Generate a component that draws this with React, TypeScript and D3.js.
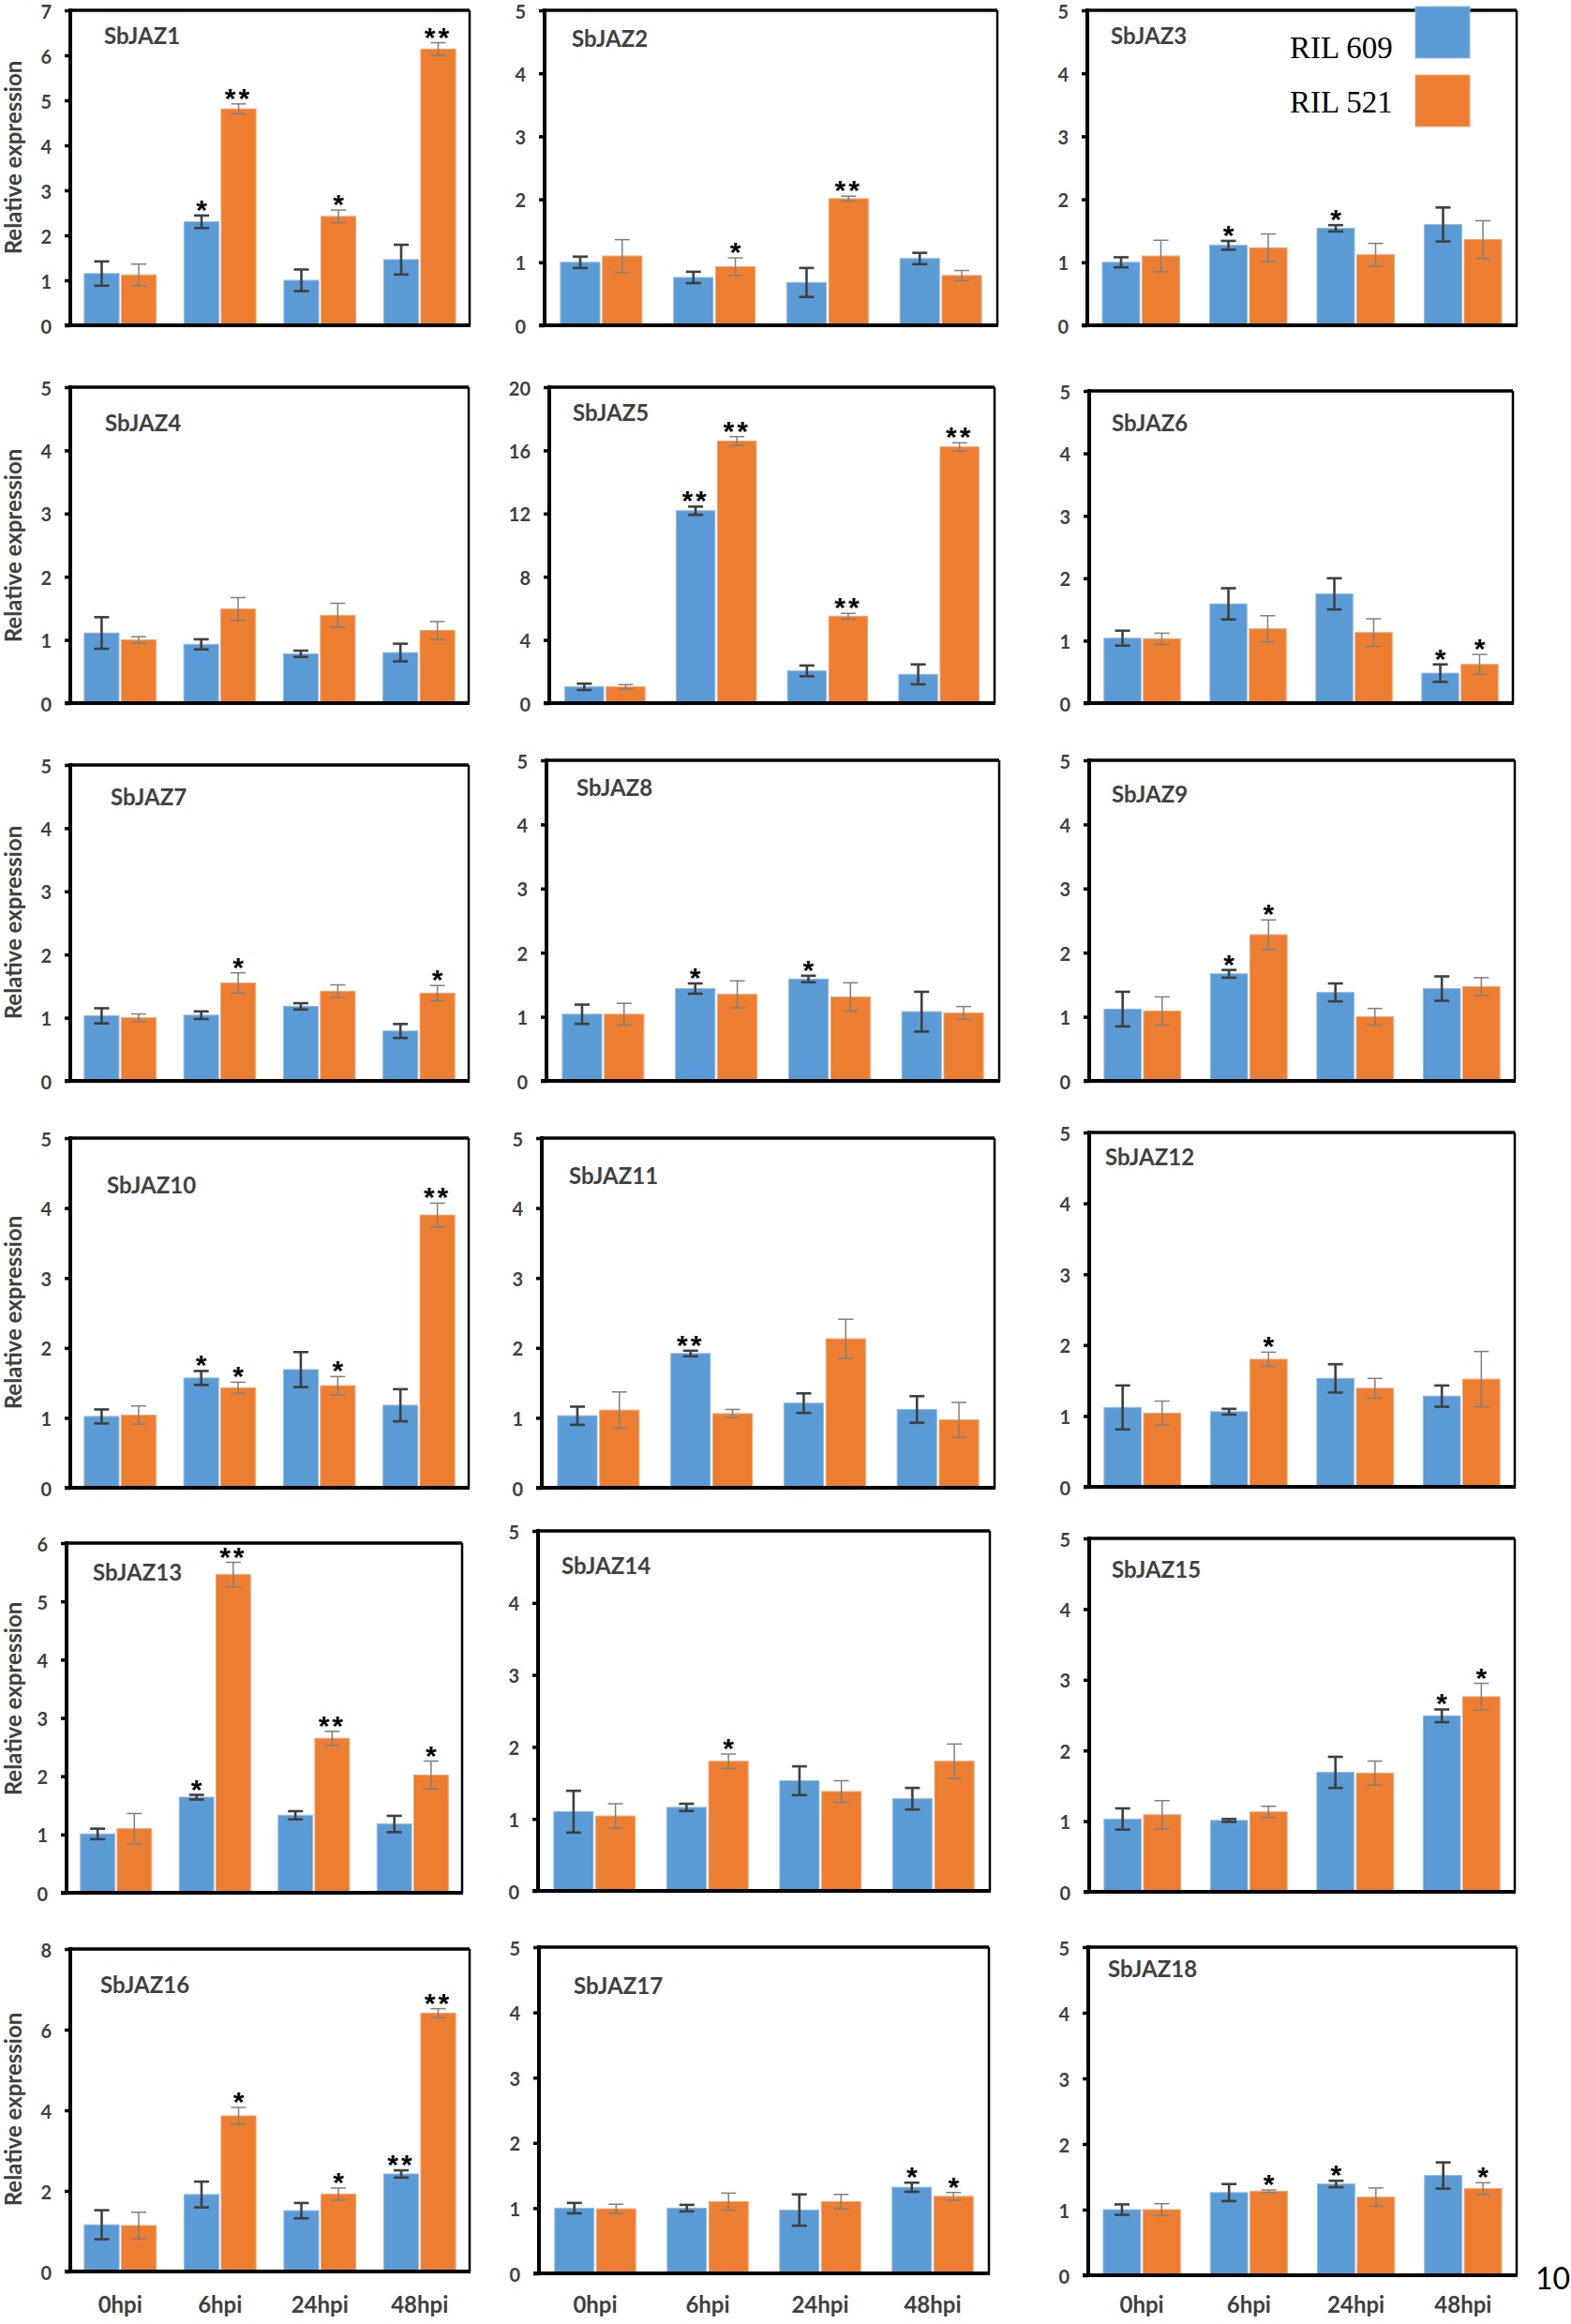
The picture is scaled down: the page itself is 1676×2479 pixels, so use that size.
import React, { useEffect, useRef } from "react";
import * as d3 from "d3";

const W = 1676;
const H = 2479;

const timepoints = ["0hpi", "6hpi", "24hpi", "48hpi"];
const genes = [
  "SbJAZ1", "SbJAZ2", "SbJAZ3", "SbJAZ4", "SbJAZ5", "SbJAZ6",
  "SbJAZ7", "SbJAZ8", "SbJAZ9", "SbJAZ10", "SbJAZ11", "SbJAZ12",
  "SbJAZ13", "SbJAZ14", "SbJAZ15", "SbJAZ16", "SbJAZ17", "SbJAZ18",
];
const yMax = [7, 5, 5, 5, 20, 5, 5, 5, 5, 5, 5, 5, 6, 5, 5, 8, 5, 5];
const yStep = [1, 1, 1, 1, 4, 1, 1, 1, 1, 1, 1, 1, 1, 1, 1, 2, 1, 1];

// RIL 609 (blue)
const ril609 = [
  [1.15, 2.3, 1.0, 1.46], [1.0, 0.76, 0.68, 1.06], [1.0, 1.27, 1.54, 1.6],
  [1.11, 0.93, 0.78, 0.8], [1.03, 12.18, 2.04, 1.82], [1.04, 1.59, 1.75, 0.48],
  [1.03, 1.04, 1.18, 0.79], [1.04, 1.44, 1.59, 1.08], [1.12, 1.67, 1.38, 1.44],
  [1.02, 1.57, 1.69, 1.18], [1.03, 1.92, 1.21, 1.12], [1.12, 1.06, 1.53, 1.28],
  [1.01, 1.64, 1.33, 1.18], [1.1, 1.16, 1.53, 1.28], [1.03, 1.01, 1.69, 2.49],
  [1.16, 1.91, 1.51, 2.42], [1.0, 1.0, 0.97, 1.32], [1.0, 1.26, 1.39, 1.52],
];
const ril609Err = [
  [0.27, 0.14, 0.24, 0.33], [0.09, 0.09, 0.23, 0.09], [0.08, 0.07, 0.05, 0.27],
  [0.25, 0.08, 0.05, 0.14], [0.2, 0.26, 0.34, 0.63], [0.12, 0.25, 0.25, 0.14],
  [0.12, 0.06, 0.05, 0.11], [0.15, 0.08, 0.05, 0.31], [0.27, 0.06, 0.14, 0.19],
  [0.1, 0.1, 0.25, 0.23], [0.13, 0.04, 0.14, 0.19], [0.31, 0.04, 0.2, 0.15],
  [0.09, 0.04, 0.07, 0.14], [0.29, 0.05, 0.2, 0.15], [0.15, 0.02, 0.22, 0.09],
  [0.36, 0.32, 0.19, 0.09], [0.08, 0.05, 0.24, 0.07], [0.08, 0.13, 0.05, 0.2],
];
// RIL 521 (orange)
const ril521 = [
  [1.12, 4.81, 2.42, 6.14], [1.1, 0.93, 2.01, 0.79], [1.1, 1.23, 1.12, 1.36],
  [1.0, 1.49, 1.39, 1.15], [1.03, 16.59, 5.5, 16.22], [1.03, 1.19, 1.13, 0.62],
  [1.0, 1.55, 1.42, 1.39], [1.04, 1.35, 1.31, 1.06], [1.09, 2.28, 1.0, 1.47],
  [1.04, 1.43, 1.46, 3.9], [1.11, 1.06, 2.13, 0.97], [1.04, 1.8, 1.39, 1.52],
  [1.1, 5.46, 2.65, 2.02], [1.04, 1.8, 1.38, 1.8], [1.09, 1.13, 1.68, 2.76],
  [1.14, 3.86, 1.92, 6.41], [0.99, 1.1, 1.1, 1.18], [1.0, 1.28, 1.19, 1.32],
];
const ril521Err = [
  [0.24, 0.11, 0.14, 0.14], [0.26, 0.14, 0.04, 0.08], [0.25, 0.22, 0.18, 0.3],
  [0.05, 0.18, 0.19, 0.14], [0.14, 0.28, 0.18, 0.26], [0.09, 0.21, 0.22, 0.16],
  [0.06, 0.16, 0.1, 0.12], [0.17, 0.21, 0.22, 0.1], [0.22, 0.23, 0.13, 0.14],
  [0.13, 0.08, 0.13, 0.17], [0.26, 0.06, 0.28, 0.25], [0.17, 0.1, 0.14, 0.39],
  [0.26, 0.21, 0.12, 0.24], [0.17, 0.1, 0.15, 0.24], [0.2, 0.08, 0.17, 0.19],
  [0.33, 0.21, 0.15, 0.11], [0.07, 0.13, 0.11, 0.06], [0.09, 0.02, 0.14, 0.09],
];
const sig609 = [
  ["", "*", "", ""], ["", "", "", ""], ["", "*", "*", ""],
  ["", "", "", ""], ["", "**", "", ""], ["", "", "", "*"],
  ["", "", "", ""], ["", "*", "*", ""], ["", "*", "", ""],
  ["", "*", "", ""], ["", "**", "", ""], ["", "", "", ""],
  ["", "*", "", ""], ["", "", "", ""], ["", "", "", "*"],
  ["", "", "", "**"], ["", "", "", "*"], ["", "", "*", ""],
];
const sig521 = [
  ["", "**", "*", "**"], ["", "*", "**", ""], ["", "", "", ""],
  ["", "", "", ""], ["", "**", "**", "**"], ["", "", "", "*"],
  ["", "*", "", "*"], ["", "", "", ""], ["", "*", "", ""],
  ["", "*", "*", "**"], ["", "", "", ""], ["", "*", "", ""],
  ["", "**", "**", "*"], ["", "*", "", ""], ["", "", "", "*"],
  ["", "*", "*", "**"], ["", "", "", "*"], ["", "*", "", "*"],
];
const legendLabels = ["RIL 609", "RIL 521"];

// panel frames: left, right, top, bottom, title dx, title dy
const frames = [
  [75, 501, 11, 347, 36, 36], [581, 1064, 11, 347, 29, 39], [1160, 1618, 11, 347, 25, 36],
  [75, 500, 413, 750, 37, 47], [586, 1061, 413, 750, 25, 36], [1162, 1614, 417, 750, 24, 43],
  [75, 500, 816, 1153, 43, 43], [583, 1066, 811, 1153, 32, 38], [1162, 1616, 811, 1153, 24, 45],
  [75, 500, 1214, 1587, 39, 59], [578, 1061, 1214, 1587, 29, 49], [1162, 1616, 1208, 1586, 17, 35],
  [71, 493, 1646, 2019, 28, 40], [574, 1056, 1633, 2017, 25, 46], [1162, 1616, 1641, 2018, 24, 42],
  [75, 501, 2079, 2423, 32, 47], [575, 1055, 2077, 2425, 37, 50], [1161, 1618, 2077, 2427, 21, 32],
];
const yTitleCenter = [168, 582, 984, 1400, 1812, 2250];

const BLUE = "#5B9BD5";
const ORANGE = "#ED7D31";
const GREY = "#404040";
const FONT = "Lato, 'Noto Sans', sans-serif";

export default function App() {
  const svgRef = useRef<SVGSVGElement>(null);

  useEffect(() => {
    document.body.style.margin = "0";
    const svg = d3.select(svgRef.current);
    svg.selectAll("*").remove();

    genes.forEach((gene, i) => {
      const [x0, x1, y0, y1, tdx, tdy] = frames[i];
      const g = svg.append("g");

      const x = d3.scaleBand().domain(timepoints).range([x0, x1])
        .paddingInner(0.28).paddingOuter(0.14);
      const sub = d3.scaleBand().domain(["609", "521"]).range([0, x.bandwidth()]).paddingInner(0.06);
      const y = d3.scaleLinear().domain([0, yMax[i]]).range([y1, y0]);

      const series = [
        { key: "609", vals: ril609[i], errs: ril609Err[i], sig: sig609[i], fill: BLUE, edge: "#8FBBE6", bar: GREY, bw: 2.6 },
        { key: "521", vals: ril521[i], errs: ril521Err[i], sig: sig521[i], fill: ORANGE, edge: "#F3A672", bar: "#7F7F7F", bw: 1.5 },
      ];

      series.forEach((s) => {
        const bx = (t: string) => (x(t) || 0) + (sub(s.key) || 0);
        const cx = (t: string) => bx(t) + sub.bandwidth() / 2;
        const rows = timepoints.map((t, k) => ({ t, v: s.vals[k], e: s.errs[k], sig: s.sig[k] }));

        g.append("g").selectAll("rect").data(rows).join("rect")
          .attr("x", (d) => bx(d.t))
          .attr("y", (d) => y(d.v))
          .attr("width", sub.bandwidth())
          .attr("height", (d) => y(0) - y(d.v))
          .attr("fill", s.fill)
          .attr("stroke", s.edge)
          .attr("stroke-width", 1);

        const eb = g.append("g").attr("stroke", s.bar).attr("stroke-width", s.bw).attr("fill", "none");
        eb.selectAll("line.v").data(rows).join("line").attr("class", "v")
          .attr("x1", (d) => cx(d.t)).attr("x2", (d) => cx(d.t))
          .attr("y1", (d) => y(d.v - d.e)).attr("y2", (d) => y(d.v + d.e));
        eb.selectAll("line.top").data(rows).join("line").attr("class", "top")
          .attr("x1", (d) => cx(d.t) - 8).attr("x2", (d) => cx(d.t) + 8)
          .attr("y1", (d) => y(d.v + d.e)).attr("y2", (d) => y(d.v + d.e));
        eb.selectAll("line.bot").data(rows).join("line").attr("class", "bot")
          .attr("x1", (d) => cx(d.t) - 8).attr("x2", (d) => cx(d.t) + 8)
          .attr("y1", (d) => y(d.v - d.e)).attr("y2", (d) => y(d.v - d.e));

        g.append("g").selectAll("text").data(rows.filter((d) => d.sig)).join("text")
          .attr("x", (d) => cx(d.t))
          .attr("y", (d) => y(d.v + d.e) + 4)
          .attr("text-anchor", "middle")
          .attr("font-family", "'Liberation Sans', Arial, sans-serif")
          .attr("font-weight", 700)
          .attr("font-size", 30)
          .attr("letter-spacing", (d) => (d.sig.length > 1 ? 3 : 0))
          .attr("fill", "#000")
          .text((d) => d.sig);
      });

      // y axis ticks
      const ticks = d3.range(0, yMax[i] + yStep[i] / 2, yStep[i]);
      const ax = g.append("g").attr("transform", `translate(${x0},0)`)
        .call(d3.axisLeft(y).tickValues(ticks).tickSize(6).tickPadding(14).tickFormat(d3.format("d")));
      ax.select(".domain").remove();
      ax.selectAll(".tick line").attr("stroke", "#000").attr("stroke-width", 3.5);
      ax.selectAll(".tick text")
        .attr("dy", "0.4em")
        .attr("font-family", FONT).attr("font-weight", 700).attr("font-size", 20).attr("fill", GREY);

      // frame
      g.append("line").attr("x1", x1).attr("x2", x1).attr("y1", y0).attr("y2", y1)
        .attr("stroke", "#000").attr("stroke-width", 2.5);
      g.append("line").attr("x1", x0).attr("x2", x1).attr("y1", y0).attr("y2", y0)
        .attr("stroke", "#000").attr("stroke-width", 3.5);
      g.append("line").attr("x1", x0).attr("x2", x0).attr("y1", y0 - 2).attr("y2", y1 + 2)
        .attr("stroke", "#000").attr("stroke-width", 4);
      g.append("line").attr("x1", x0 - 6).attr("x2", x1 + 1).attr("y1", y1).attr("y2", y1)
        .attr("stroke", "#000").attr("stroke-width", 4);

      // gene name
      g.append("text").attr("x", x0 + tdx).attr("y", y0 + tdy)
        .attr("font-family", FONT).attr("font-weight", 700).attr("font-size", 24).attr("fill", GREY)
        .text(gene);

      // y title for first column
      if (i % 3 === 0) {
        const cy = yTitleCenter[Math.floor(i / 3)];
        g.append("text").attr("transform", `translate(23,${cy}) rotate(-90)`)
          .attr("text-anchor", "middle")
          .attr("font-family", FONT).attr("font-weight", 700).attr("font-size", 24).attr("fill", GREY)
          .text("Relative expression");
      }

      // x labels for bottom row
      if (i >= 15) {
        g.append("g").selectAll("text").data(timepoints).join("text")
          .attr("x", (t) => (x(t) || 0) + x.bandwidth() / 2)
          .attr("y", 2467)
          .attr("text-anchor", "middle")
          .attr("font-family", FONT).attr("font-weight", 700).attr("font-size", 24).attr("fill", GREY)
          .text((t) => t);
      }

      // legend in SbJAZ3
      if (i === 2) {
        const lg = g.append("g");
        lg.selectAll("rect").data(legendLabels).join("rect")
          .attr("x", 1510).attr("y", (_, k) => 7 + k * 73)
          .attr("width", 58).attr("height", 55)
          .attr("fill", (_, k) => (k === 0 ? BLUE : ORANGE))
          .attr("stroke", (_, k) => (k === 0 ? "#8FBBE6" : "#F3A672"));
        lg.selectAll("text").data(legendLabels).join("text")
          .attr("x", 1376).attr("y", (_, k) => 62 + k * 58)
          .attr("font-family", "'Liberation Serif', 'Times New Roman', serif")
          .attr("font-size", 33).attr("fill", "#000")
          .text((d) => d);
      }
    });

    svg.append("text").attr("x", 1638).attr("y", 2442)
      .attr("font-family", FONT).attr("font-size", 32).attr("fill", "#000")
      .text("10");
  }, []);

  return <svg ref={svgRef} width={W} height={H} style={{ display: "block", background: "#fff" }} />;
}
